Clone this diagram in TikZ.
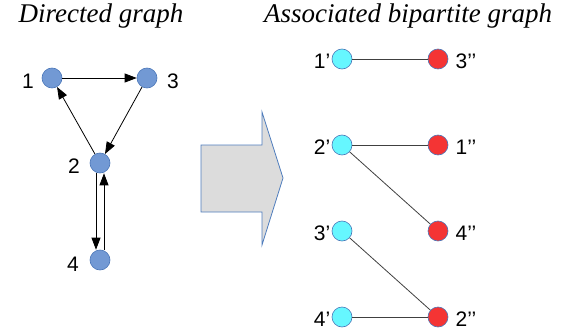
\documentclass[tikz,border=0pt]{standalone}
\usepackage{fontspec}
\setmainfont{Liberation Serif}
\setsansfont{Liberation Sans}
\usetikzlibrary{arrows.meta}
\definecolor{vblue}{HTML}{7299D4}
\definecolor{vedge}{HTML}{4A76B8}
\definecolor{vcyan}{HTML}{66F7FF}
\definecolor{vred}{HTML}{F43434}
\definecolor{arrfill}{HTML}{DCDCDC}
\definecolor{arrline}{HTML}{4F7DBD}
\tikzset{
  vert/.style={circle, draw=vedge, line width=0.6pt, minimum size=20pt, inner sep=0pt},
  dvert/.style={vert, fill=vblue},
  lvert/.style={vert, fill=vcyan},
  rvert/.style={vert, fill=vred},
  lab/.style={font=\sffamily\fontsize{21}{21}\selectfont, inner sep=0pt},
  ttl/.style={font=\itshape\fontsize{27}{27}\selectfont, inner sep=0pt, anchor=base},
  darc/.style={line width=0.8pt, -{Triangle[length=12pt,width=9pt]}},
  barc/.style={line width=0.8pt, draw=black!75},
}
\begin{document}
\begin{tikzpicture}[x=1pt, y=-1pt]
\useasboundingbox (0,0) rectangle (568,332);

% titles
\node[ttl] (t1) at (101,22) {Directed graph};
\node[ttl] (t2) at (408,22) {Associated bipartite graph};

% directed graph
\node[dvert] (n1) at (52,78) {};
\node[dvert] (n3) at (147,78) {};
\node[dvert] (n2) at (100,163) {};
\node[dvert] (n4) at (100,260) {};
\node[lab] (l1) at (28,81) {1};
\node[lab] (l3) at (173,81) {3};
\node[lab] (l2) at (74,166) {2};
\node[lab] (l4) at (73,264) {4};

\draw[darc] (n1) -- (n3);
\draw[darc] (n3) -- (n2);
\draw[darc] (n2) -- (n1);
\draw[darc] ([xshift=-4pt]n2.south) -- ([xshift=-4pt]n4.north);
\draw[darc] ([xshift=4pt]n4.north) -- ([xshift=4pt]n2.south);

% block arrow
\draw[arrline, fill=arrfill, line width=0.8pt, line join=miter]
  (201,145) -- (262,145) -- (262,112) -- (283,178) -- (262,245) -- (262,212) -- (201,212) -- cycle;

% bipartite graph
\node[lvert] (a1) at (342,59) {};
\node[lvert] (a2) at (342,145) {};
\node[lvert] (a3) at (342,231) {};
\node[lvert] (a4) at (342,317) {};
\node[rvert] (b3) at (438,59) {};
\node[rvert] (b1) at (438,145) {};
\node[rvert] (b4) at (438,231) {};
\node[rvert] (b2) at (438,317) {};

\node[lab] (la1) at (322,61) {1’};
\node[lab] (la2) at (322,147) {2’};
\node[lab] (la3) at (322,233) {3’};
\node[lab] (la4) at (322,319) {4’};
\node[lab] (lb3) at (466,61) {3’’};
\node[lab] (lb1) at (466,147) {1’’};
\node[lab] (lb4) at (466,233) {4’’};
\node[lab] (lb2) at (466,319) {2’’};

\draw[barc] (a1) -- (b3);
\draw[barc] (a2) -- (b1);
\draw[barc] (a2) -- (b4);
\draw[barc] (a3) -- (b2);
\draw[barc] (a4) -- (b2);
\end{tikzpicture}
\end{document}
